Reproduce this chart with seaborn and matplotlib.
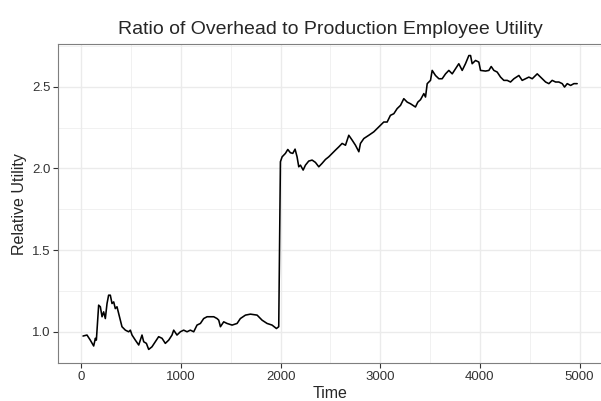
import matplotlib
matplotlib.use("Agg")
import matplotlib.pyplot as plt
import seaborn as sns
import pandas as pd
from matplotlib.ticker import MultipleLocator

# ---- data ----
time = [17, 57, 90, 124, 141, 151, 174, 191, 208, 224, 241, 258, 274, 291, 308,
        325, 341, 358, 375, 392, 408, 442, 475, 492, 509, 542, 576, 592, 609, 626,
        653, 676, 709, 743, 776, 810, 843, 877, 910, 927, 960, 994, 1027, 1061,
        1094, 1128, 1161, 1195, 1228, 1262, 1295, 1329, 1362, 1379, 1396, 1429,
        1462, 1513, 1563, 1596, 1647, 1697, 1764, 1814, 1864, 1914, 1958, 1981,
        1998, 2015, 2048, 2072, 2098, 2122, 2145, 2165, 2182, 2199, 2226, 2249,
        2282, 2316, 2349, 2383, 2416, 2450, 2483, 2517, 2550, 2584, 2617, 2651,
        2684, 2718, 2751, 2785, 2801, 2835, 2885, 2935, 3002, 3035, 3069, 3102,
        3136, 3169, 3203, 3236, 3270, 3303, 3353, 3377, 3404, 3437, 3454, 3471,
        3504, 3521, 3554, 3588, 3621, 3655, 3688, 3722, 3755, 3788, 3822, 3855,
        3889, 3906, 3922, 3956, 3989, 4006, 4056, 4090, 4113, 4140, 4173, 4207,
        4240, 4274, 4307, 4341, 4391, 4424, 4458, 4491, 4525, 4575, 4608, 4659,
        4692, 4725, 4759, 4792, 4826, 4849, 4876, 4910, 4943, 4976]
utility = [0.974, 0.980, 0.949, 0.913, 0.960, 0.949, 1.163, 1.153, 1.092, 1.122,
           1.081, 1.173, 1.224, 1.224, 1.173, 1.183, 1.142, 1.153, 1.112, 1.071,
           1.031, 1.010, 1.000, 1.010, 0.980, 0.949, 0.919, 0.949, 0.980, 0.939,
           0.929, 0.892, 0.908, 0.939, 0.970, 0.960, 0.929, 0.949, 0.980, 1.010,
           0.980, 1.000, 1.010, 1.000, 1.010, 1.000, 1.041, 1.051, 1.081, 1.092,
           1.092, 1.092, 1.081, 1.071, 1.031, 1.061, 1.051, 1.041, 1.051, 1.081,
           1.102, 1.108, 1.102, 1.071, 1.051, 1.041, 1.020, 1.031,
           2.041, 2.071, 2.092, 2.116, 2.096, 2.092, 2.118, 2.071, 2.010, 2.020,
           1.990, 2.020, 2.045, 2.051, 2.037, 2.010, 2.031, 2.055, 2.071, 2.092,
           2.112, 2.132, 2.153, 2.142, 2.203, 2.173, 2.142, 2.102, 2.153, 2.183,
           2.203, 2.224, 2.264, 2.284, 2.284, 2.325, 2.335, 2.366, 2.386, 2.427,
           2.406, 2.396, 2.376, 2.406, 2.421, 2.458, 2.437, 2.519, 2.539, 2.600,
           2.569, 2.549, 2.549, 2.579, 2.600, 2.579, 2.610, 2.641, 2.600, 2.641,
           2.691, 2.691, 2.641, 2.661, 2.651, 2.600, 2.596, 2.600, 2.624, 2.600,
           2.590, 2.559, 2.539, 2.539, 2.529, 2.549, 2.569, 2.539, 2.549, 2.559,
           2.549, 2.579, 2.559, 2.529, 2.519, 2.539, 2.529, 2.529, 2.519, 2.498,
           2.519, 2.508, 2.519, 2.519]
x_ticks = [0, 1000, 2000, 3000, 4000, 5000]
y_ticks = [1.0, 1.5, 2.0, 2.5]
y_tick_labels = ["1.0", "1.5", "2.0", "2.5"]
title = "Ratio of Overhead to Production Employee Utility"
x_label = "Time"
y_label = "Relative Utility"

df = pd.DataFrame({"Time": time, "Utility": utility})

# ---- style (ggplot theme_bw look) ----
sns.set_style("white")
plt.rcParams["font.family"] = ["Liberation Sans", "DejaVu Sans"]

fig = plt.figure(figsize=(6.01, 4.01), dpi=100)
ax = fig.add_axes([0.097, 0.094, 0.9045, 0.796])

sns.lineplot(data=df, x="Time", y="Utility", estimator=None, sort=False,
             color="black", linewidth=1.15, ax=ax)

ax.set_xlim(-231, 5224)
ax.set_ylim(0.807, 2.761)
ax.set_xticks(x_ticks)
ax.set_yticks(y_ticks)
ax.set_yticklabels(y_tick_labels)
ax.xaxis.set_minor_locator(MultipleLocator(500))
ax.yaxis.set_minor_locator(MultipleLocator(0.25))

ax.grid(True, which="major", color="#EBEBEB", linewidth=1.0)
ax.grid(True, which="minor", color="#EBEBEB", linewidth=0.5)
ax.set_axisbelow(True)

for s in ax.spines.values():
    s.set_visible(True)
    s.set_color("#7F7F7F")
    s.set_linewidth(0.8)

ax.tick_params(axis="both", which="major", direction="out", length=3.5,
               width=0.8, color="#333333", labelsize=9.5, labelcolor="#333333",
               pad=2, bottom=True, left=True)
ax.tick_params(axis="both", which="minor", length=0)

ax.set_title(title, fontsize=14, pad=7)
ax.set_xlabel(x_label, fontsize=11.5, labelpad=2)
ax.set_ylabel(y_label, fontsize=11.5, labelpad=4)

fig.savefig("out.png", dpi=100)
